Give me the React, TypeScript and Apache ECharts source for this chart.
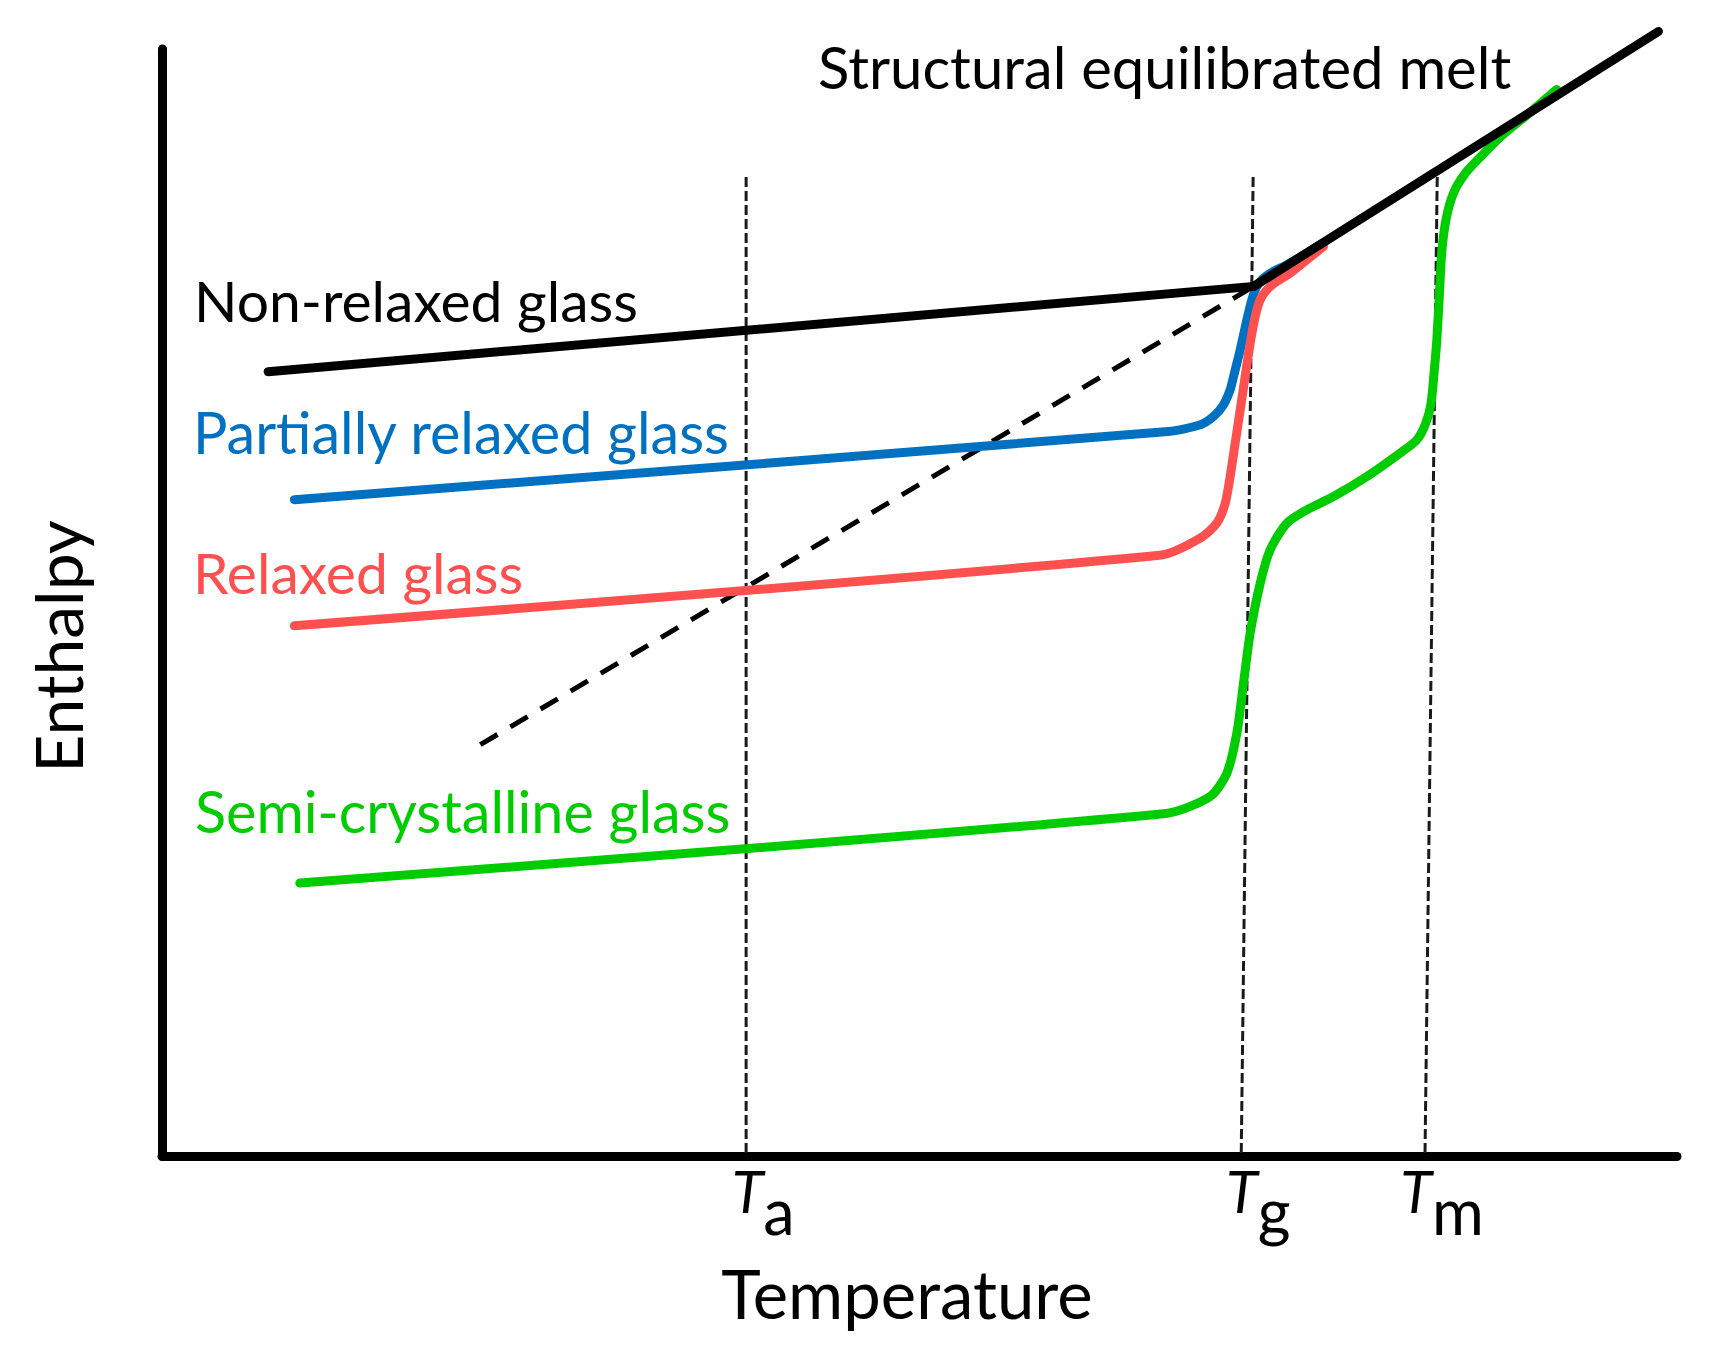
import React, { useEffect, useRef } from "react";
import * as echarts from "echarts";

// Arbitrary units: temperature 0..1385, enthalpy 0..1012
const xMax = 1385;
const yMax = 1012;

// Solid black: non-relaxed glass + structural equilibrated melt
const equilibriumLine = [[97, 717], [998, 795], [1368, 1028]];
// Dashed black extrapolation of the melt line
const extrapolatedLine = [[291, 376], [998, 795]];

const partiallyRelaxed = [
  [121, 600], [920, 662.3], [949.1, 668.4], [961.3, 676.1], [970.4, 686.7],
  [976.5, 700.4], [979.6, 712.6], [985.7, 737], [991.8, 764.4], [996.3, 782.7], [1000.9, 794.9],
  [1007, 802.5], [1016.1, 808.6], [1028.3, 814.7], [1046.6, 825.4], [1058.8, 833],
];
const relaxed = [
  [121, 484.7], [914, 549.5], [949.1, 564.8], [964.3, 578.5], [972, 596.8],
  [976.5, 621.2], [981.1, 651.7], [985.7, 682.2], [990.2, 712.6], [994.8, 743.1], [999.4, 767.5],
  [1003.9, 782.7], [1010.1, 791.9], [1019.2, 799.5], [1031.4, 807.1], [1046.6, 819.3], [1061.8, 831.5],
];
const semiCrystalline = [
  [126, 249.5], [918, 313.2], [958.2, 328.6], [973.5, 350], [982.6, 386.6],
  [988.7, 432.3], [994.8, 478], [1004, 523.7], [1013.1, 554.2], [1028.3, 578.5], [1046.6, 590.7],
  [1071, 602.9], [1101.5, 621.2], [1131.9, 642.6], [1147.2, 654.7], [1155, 669], [1160, 687],
  [1163, 717], [1165.5, 747], [1168, 792], [1170, 827], [1174, 857], [1181, 881], [1192, 899],
  [1207, 915], [1224, 932], [1247, 951], [1275, 975],
];

// Vertical guide lines at Ta, Tg, Tm (top point, bottom point)
const guideTa = [[534, 895], [534, 0]];
const guideTg = [[997.5, 895], [986.6, 0]];
const guideTm = [[1165.8, 895], [1154.6, 0]];

const tickValues = [534, 986.6, 1154.6];
const tickSubscripts = ["a", "g", "m"];

const labelTexts = [
  "Structural equilibrated melt",
  "Non-relaxed glass",
  "Partially relaxed glass",
  "Relaxed glass",
  "Semi-crystalline glass",
];

const BLUE = "#0070C0";
const RED = "#FF5050";
const GREEN = "#00CC00";
const FONT = "Lato";

export default function App() {
  const ref = useRef<HTMLDivElement>(null);
  useEffect(() => {
    if (!ref.current) return;
    const chart = echarts.init(ref.current, null, { renderer: "svg" });
    const guideStyle = { color: "#1a1a1a", width: 3, type: [10, 4] as any };
    const curve = (data: number[][], color: string, width: number, z: number) => ({
      type: "line",
      data,
      symbol: "none",
      clip: false,
      silent: true,
      z,
      smooth: 0.25,
      lineStyle: { color, width, cap: "round", join: "round" },
    });
    const text = (t: string, x: number, y: number, size: number, color: string) => ({
      type: "text",
      x,
      y,
      silent: true,
      style: {
        text: t,
        fill: color,
        fontSize: size,
        fontFamily: FONT,
        textAlign: "left",
        textVerticalAlign: "middle",
        align: "left",
        verticalAlign: "middle",
      },
    });
    chart.setOption({
      animation: false,
      backgroundColor: "#fff",
      grid: { left: 162, top: 49, width: 1515, height: 1107, containLabel: false },
      xAxis: {
        type: "value",
        min: 0,
        max: xMax,
        axisLine: { show: true, onZero: false, lineStyle: { color: "#000", width: 9 } },
        axisTick: { show: false },
        splitLine: { show: false },
        axisLabel: {
          customValues: tickValues,
          margin: 14,
          padding: [0, 0, 0, 34],
          formatter: (v: number) => {
            let bi = 0;
            tickValues.forEach((tv, i) => {
              if (Math.abs(tv - v) < Math.abs(tickValues[bi] - v)) bi = i;
            });
            return `{t|T}{s|${tickSubscripts[bi]}}`;
          },
          rich: {
            t: { fontFamily: FONT, fontStyle: "italic", fontSize: 58, lineHeight: 58, padding: [0, 0, 22, 0], color: "#000" },
            s: { fontFamily: FONT, fontSize: 63, lineHeight: 63, padding: [17, 0, 0, 0], color: "#000" },
          },
        },
        name: "Temperature",
        nameLocation: "middle",
        nameGap: 103,
        nameTextStyle: { fontFamily: FONT, fontSize: 67, color: "#000", padding: [0, 25, 0, 0] },
      },
      yAxis: {
        type: "value",
        min: 0,
        max: yMax,
        axisLine: { show: true, onZero: false, lineStyle: { color: "#000", width: 9 } },
        axisTick: { show: false },
        splitLine: { show: false },
        axisLabel: { show: false },
        name: "Enthalpy",
        nameLocation: "middle",
        nameRotate: 90,
        nameGap: 72,
        nameTextStyle: { fontFamily: FONT, fontSize: 66, color: "#000", padding: [0, 88, 0, 0] },
      },
      series: [
        { ...curve(guideTa, "#1a1a1a", 3, 1), smooth: false, lineStyle: guideStyle },
        { ...curve(guideTg, "#1a1a1a", 3, 1), smooth: false, lineStyle: guideStyle },
        { ...curve(guideTm, "#1a1a1a", 3, 1), smooth: false, lineStyle: guideStyle },
        {
          ...curve(extrapolatedLine, "#000", 5, 2),
          smooth: false,
          lineStyle: { color: "#000", width: 5, type: [20, 15] },
        },
        curve(partiallyRelaxed, BLUE, 9, 3),
        curve(relaxed, RED, 9, 3),
        curve(semiCrystalline, GREEN, 9, 3),
        { ...curve(equilibriumLine, "#000", 9, 5), smooth: false },
      ],
      graphic: [
        text(labelTexts[0], 818, 66, 58, "#000"),
        text(labelTexts[1], 194, 300, 57, "#000"),
        text(labelTexts[2], 193, 431.5, 57.5, BLUE),
        text(labelTexts[3], 193, 571.5, 57, RED),
        text(labelTexts[4], 195, 810, 57.5, GREEN),
      ],
    });
    return () => chart.dispose();
  }, []);
  return (
    <div
      ref={ref}
      style={{ position: "absolute", left: 0, top: 0, width: 1715, height: 1353, background: "#fff" }}
    />
  );
}
